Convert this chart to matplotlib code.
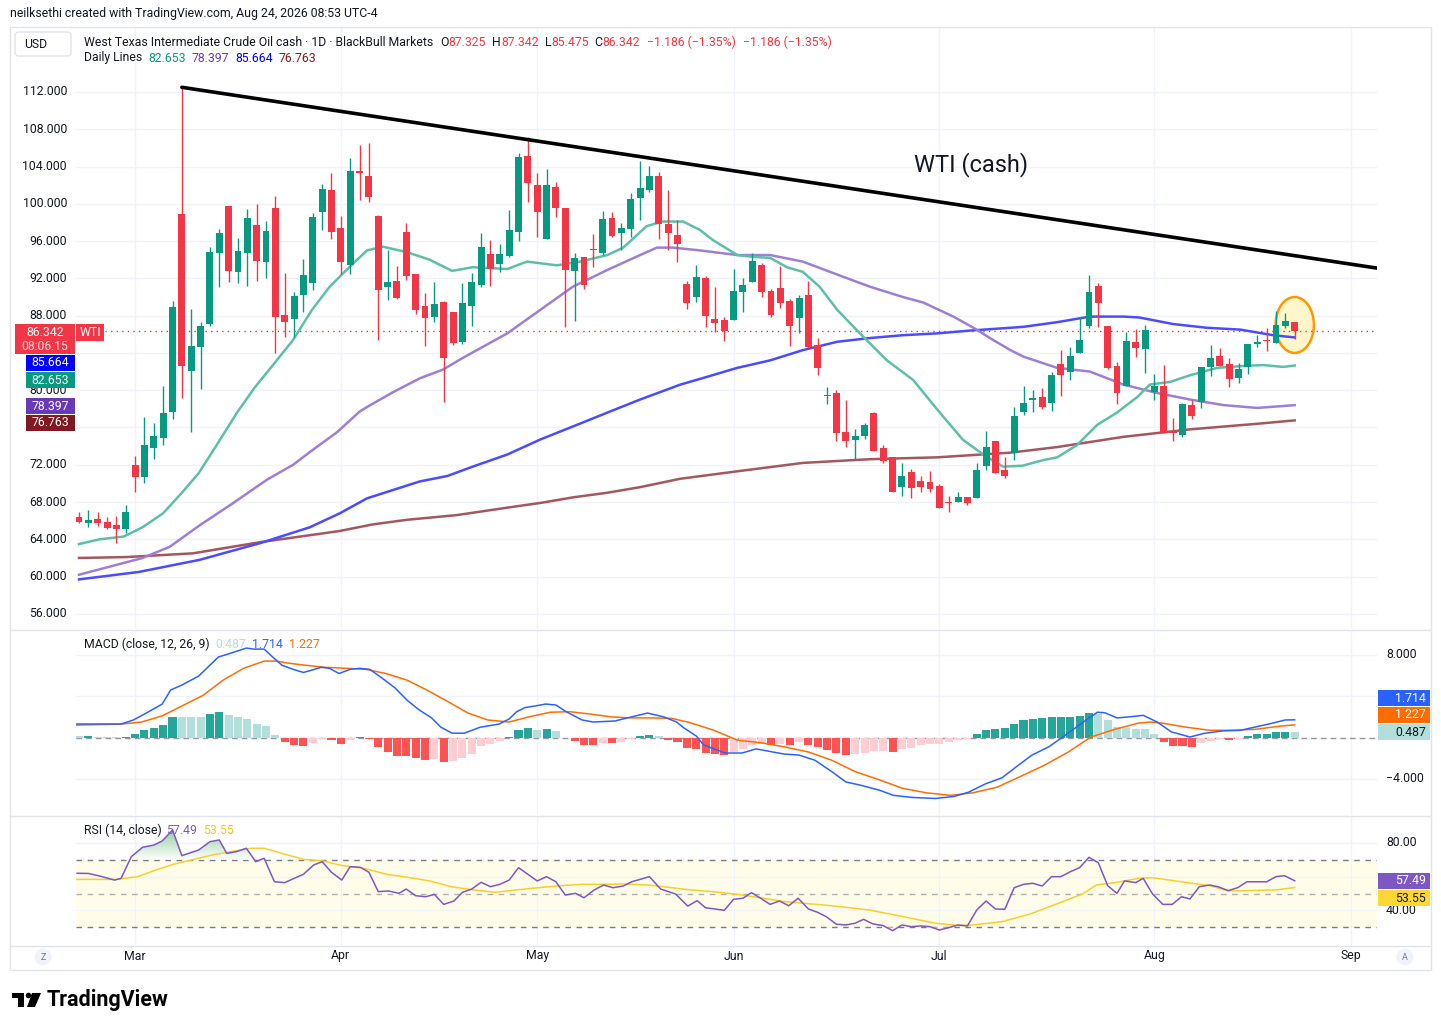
import matplotlib
matplotlib.use("Agg")
import matplotlib.pyplot as plt
import numpy as np
from matplotlib.patches import Ellipse, Rectangle, FancyBboxPatch, Circle, Polygon
from matplotlib.path import Path as MplPath
from matplotlib.colors import LinearSegmentedColormap
from matplotlib.transforms import blended_transform_factory


W, H = 1441, 1030
FONT = "Roboto"
DARK = "#131722"
RED = "#f23645"
GREEN = "#089981"
TXT = 8.8

# ---- daily candles (bar index 0 = first visible session) ----
opens = [66.4, 65.8, 66.2, 65.9, 65.5, 65.1, 72.0, 70.7, 73.8, 74.9,
         77.7, 98.9, 82.1, 84.6, 87.1, 94.7, 99.8, 92.7, 94.7, 97.7,
         93.8, 99.6, 88.1, 87.6, 90.2, 91.5, 99.1, 101.5, 97.4, 93.4,
         103.45, 103.0, 98.7, 91.1, 91.7, 97.0, 92.5, 89.0, 87.9, 89.5,
         88.4, 85.2, 89.0, 91.3, 94.6, 93.5, 94.4, 97.0, 105.1, 102.0,
         96.2, 101.8, 99.6, 92.8, 94.3, 95.15, 94.7, 98.5, 96.9, 97.3,
         100.6, 101.5, 103.0, 97.8, 96.7, 91.4, 90.0, 92.0, 87.6, 87.5,
         87.5, 90.5, 91.6, 93.4, 90.6, 91.0, 89.6, 87.8, 90.2, 84.9,
         79.35, 79.7, 75.5, 74.7, 75.1, 77.6, 73.8, 72.8, 69.6, 71.2,
         70.3, 70.2, 69.7, 67.95, 68.0, 68.5, 68.4, 71.9, 74.6, 71.4,
         73.3, 77.7, 79.0, 79.3, 78.6, 82.8, 82.0, 84.0, 86.9, 91.2,
         86.9, 82.6, 80.5, 85.2, 84.4, 79.8, 80.5, 75.55, 75.2, 78.4,
         78.7, 82.5, 83.7, 82.8, 81.3, 82.5, 85.0, 85.35, 85.1, 86.9,
         87.325]
highs = [66.9, 67.1, 66.9, 66.4, 66.5, 67.7, 72.9, 77.1, 76.5, 80.5,
         89.6, 112.5, 88.7, 87.3, 95.4, 97.3, 99.8, 96.3, 99.4, 100.0,
         98.2, 100.8, 92.6, 90.5, 94.1, 99.0, 102.1, 103.3, 98.7, 104.9,
         106.3, 106.5, 98.8, 95.0, 93.3, 97.9, 92.5, 90.4, 91.6, 89.6,
         88.4, 91.5, 92.6, 96.9, 96.1, 95.7, 99.3, 105.5, 107.2, 103.3,
         103.7, 102.3, 99.6, 94.7, 94.3, 96.8, 99.2, 99.1, 97.9, 101.2,
         104.6, 104.1, 103.4, 101.5, 98.3, 91.7, 93.4, 92.3, 91.1, 87.9,
         93.0, 92.0, 94.7, 93.6, 90.9, 93.3, 89.8, 90.2, 91.7, 85.6,
         80.3, 80.0, 79.0, 75.8, 76.5, 77.7, 74.1, 72.8, 72.2, 71.5,
         70.8, 71.3, 69.9, 68.7, 69.1, 68.5, 72.2, 75.6, 74.6, 72.8,
         78.2, 80.5, 80.0, 80.2, 82.0, 84.3, 84.6, 87.9, 92.4, 91.5,
         86.9, 83.0, 86.2, 86.6, 87.0, 81.7, 82.7, 77.0, 78.6, 79.0,
         82.5, 84.9, 84.5, 83.5, 82.9, 85.0, 85.9, 86.7, 88.5, 88.3,
         87.342]
lows = [65.8, 65.3, 65.4, 65.1, 63.6, 64.7, 69.1, 70.0, 72.6, 74.1,
        76.9, 79.2, 75.5, 80.1, 86.9, 91.1, 91.6, 91.5, 91.2, 91.7,
        92.0, 84.0, 85.7, 85.7, 88.4, 90.8, 97.2, 96.2, 92.5, 92.5,
        100.4, 100.2, 85.4, 89.7, 89.8, 91.8, 88.2, 84.7, 87.3, 78.7,
        84.9, 85.0, 86.9, 91.1, 91.2, 92.7, 94.3, 96.0, 100.2, 96.4,
        96.2, 98.6, 86.8, 87.4, 90.9, 93.2, 94.5, 96.4, 95.0, 96.4,
        98.3, 101.3, 96.2, 95.0, 93.8, 88.7, 89.5, 86.8, 86.2, 85.3,
        87.5, 88.4, 91.6, 90.0, 87.9, 88.8, 84.7, 86.1, 84.5, 81.6,
        78.5, 74.6, 73.9, 72.6, 74.8, 73.5, 72.2, 69.1, 68.7, 68.4,
        69.1, 69.1, 67.4, 66.9, 68.0, 67.7, 68.4, 71.4, 71.1, 70.6,
        72.5, 77.3, 77.7, 78.0, 77.8, 79.4, 81.1, 84.0, 86.7, 86.8,
        82.3, 78.5, 80.5, 83.6, 81.8, 79.0, 75.4, 74.6, 75.0, 76.9,
        78.1, 81.5, 82.6, 80.3, 80.8, 81.7, 84.6, 84.2, 85.1, 86.7,
        85.475]
closes = [65.9, 66.1, 65.7, 65.2, 65.1, 66.9, 70.7, 74.1, 75.1, 77.6,
          88.9, 82.6, 84.7, 86.9, 94.8, 96.9, 92.8, 94.9, 98.5, 93.9,
          97.1, 87.9, 87.3, 90.1, 92.4, 98.6, 101.6, 97.0, 93.8, 103.5,
          103.35, 100.7, 90.8, 91.6, 89.9, 92.3, 88.6, 87.8, 89.3, 83.5,
          85.1, 89.4, 91.6, 95.4, 93.0, 94.6, 97.2, 105.0, 102.2, 99.1,
          102.0, 99.6, 92.9, 94.2, 91.3, 95.05, 98.4, 96.5, 97.4, 100.5,
          101.7, 103.0, 97.8, 96.9, 95.7, 89.4, 92.2, 88.0, 87.2, 86.4,
          90.6, 91.3, 93.9, 90.5, 88.1, 89.4, 86.9, 89.9, 84.6, 82.4,
          79.45, 75.4, 74.6, 75.1, 76.3, 73.5, 72.4, 69.1, 70.8, 69.5,
          69.6, 69.4, 67.4, 67.85, 68.5, 67.9, 71.4, 73.9, 71.1, 70.8,
          77.2, 78.6, 79.2, 78.2, 81.6, 81.6, 83.7, 85.4, 90.5, 89.4,
          82.4, 79.7, 85.3, 84.5, 86.5, 80.5, 75.4, 75.45, 78.5, 77.2,
          82.5, 83.5, 82.6, 81.2, 82.3, 85.0, 85.2, 85.25, 87.0, 87.4,
          86.342]
change = -1.186
change_pct = -1.35

months = ["Mar", "Apr", "May", "Jun", "Jul", "Aug", "Sep"]
month_bars = [6, 28, 49, 70, 92, 115, 136]

# ---- daily moving averages ----
sma20_bar = [0, 2.2, 4.8, 6.8, 9, 11, 12.8, 14.9, 16.9, 18.8, 20.9, 22.9, 24.9,
             26.8, 28.9, 30.8, 32.5, 35.1, 37.5, 39.9, 42.1, 45.8, 47.9, 51.1,
             53.6, 56.5, 58.2, 60.7, 62.4, 64.6, 66.4, 67.8, 70.4, 72.1, 73.9,
             75.7, 77.4, 79.2, 81.1, 83.9, 86.4, 89.2, 91.8, 94.5, 96.7, 98.8,
             100.9, 103.1, 104.6, 106.7, 108.9, 111, 113.2, 114.5, 116.7,
             118.8, 121.7, 124.5, 126.6, 128.8, 130]
sma20_val = [63.5, 64.0, 64.3, 65.3, 66.8, 69.0, 71.1, 74.4, 77.6, 80.3, 82.9,
             85.4, 88.6, 91.1, 93.2, 95.0, 95.4, 94.8, 94.0, 92.8, 93.2, 93.0,
             93.8, 93.4, 93.8, 94.5, 95.3, 97.6, 98.1, 98.1, 97.2, 96.1, 94.5,
             94.3, 94.2, 93.2, 92.7, 91.1, 88.6, 85.7, 83.2, 81.1, 77.9, 74.7,
             73.1, 71.8, 71.9, 72.5, 72.8, 74.1, 76.3, 77.6, 79.3, 80.6, 80.9,
             81.6, 82.4, 82.6, 82.7, 82.5, 82.653]
sma50_bar = [0, 6.8, 9.7, 12.9, 16.5, 20.1, 22.9, 25, 27.6, 30, 30.8, 33.6,
             36.5, 38.9, 41.1, 45.8, 49.3, 52.8, 56.5, 60, 61.8, 63.5, 66.4,
             70.4, 73.9, 77.4, 81.1, 84.6, 88.1, 90.3, 93.5, 96, 97.4, 99.6,
             101, 104.6, 108.1, 111.7, 115.3, 118.8, 122.4, 126, 130]
sma50_val = [60.2, 62.0, 63.2, 65.5, 67.9, 70.4, 72.0, 73.6, 75.5, 77.7, 78.2,
             79.8, 81.3, 82.2, 83.5, 86.1, 88.6, 91.1, 92.9, 94.5, 95.3, 95.3,
             95.0, 94.5, 94.5, 93.8, 92.4, 91.1, 90.0, 89.4, 87.9, 86.5, 85.6,
             84.3, 83.6, 82.4, 82.0, 80.6, 79.7, 79.0, 78.4, 78.1, 78.397]
sma100_bar = [0, 6.4, 12.9, 19.4, 24.7, 27.9, 30.8, 33.6, 36.4, 39.4, 42.1, 45.8,
              49.3, 52.8, 56.5, 60, 64.3, 66.7, 70.4, 73.9, 77.4, 81.1, 84.6,
              88.1, 91.8, 95.3, 99.6, 101, 104.6, 108.1, 111.7, 113.4, 117,
              120.6, 124.2, 127.7, 130]
sma100_val = [59.7, 60.5, 61.8, 63.6, 65.3, 66.8, 68.4, 69.3, 70.2, 70.8, 71.8, 73.1,
              74.7, 76.1, 77.6, 79.0, 80.6, 81.3, 82.4, 83.2, 84.3, 85.2, 85.6,
              85.9, 86.1, 86.4, 86.7, 86.8, 87.3, 87.9, 87.9, 87.8, 87.1, 86.7,
              86.5, 85.9, 85.664]
sma200_bar = [0, 5.1, 12.2, 19.4, 26.5, 27.9, 31.4, 35.1, 40.4, 45.8, 49.3,
              52.8, 56.5, 60, 64.3, 70.4, 77.4, 84.6, 91.8, 99.6, 104.6,
              111.7, 118.8, 126, 130]
sma200_val = [62.0, 62.1, 62.5, 63.7, 64.7, 64.9, 65.6, 66.1, 66.6, 67.4, 67.9,
              68.5, 69.0, 69.6, 70.5, 71.3, 72.2, 72.6, 72.8, 73.3, 73.9,
              75.0, 75.8, 76.4, 76.763]

# ---- MACD (close, 12, 26, 9) ----
macd_bar = [-0.3, 4.5, 5.8, 7.2, 8.9, 9.8, 11, 12.8, 14.9, 16, 17.9, 18.7,
            19.8, 20.7, 21.7, 22.9, 24, 24.8, 25.9, 26.8, 27.8, 29, 30, 31.1,
            32.4, 33.8, 35.1, 36.4, 37.7, 38.7, 39.9, 41.2, 42.9, 44.9, 46,
            46.8, 47.7, 48.8, 49.9, 51, 52.1, 53.8, 55, 57.3, 59, 60.8, 62.6,
            63.9, 64.7, 66, 66.8, 69.1, 70.9, 72.4, 74.2, 75.4, 77, 78.7, 80.5,
            82, 83.5, 85.6, 87.1, 89.1, 91.6, 93.6, 95.1, 96.9, 98.7, 100.2,
            101.9, 103.7, 105.2, 106.5, 107.7, 108.9, 109.7, 111, 112.3, 113.8,
            115.3, 116.8, 118.8, 120.3, 122.4, 124.2, 125.7, 127.2, 129, 130]
macd_val = [1.31, 1.31, 1.69, 2.37, 3.24, 4.6, 5.08, 5.95, 7.79, 8.1, 8.66,
            8.56, 8.56, 7.8, 7.0, 6.6, 6.3, 6.5, 6.8, 6.7, 6.2, 6.6, 6.7, 6.6,
            5.76, 4.8, 3.6, 2.66, 1.9, 1.0, 0.42, 0.42, 1.0, 1.3, 1.8, 2.5, 2.9,
            3.06, 3.24, 3.15, 2.5, 1.7, 1.5, 1.6, 1.98, 2.37, 1.98, 1.5, 0.92,
            0.15, -0.73, -1.5, -1.5, -1.1, -1.4, -1.6, -1.7, -2.2, -3.3, -4.3,
            -4.6, -5.1, -5.6, -5.8, -5.9, -5.7, -5.3, -4.5, -3.9, -2.85, -1.7,
            -0.9, 0.05, 0.9, 1.7, 2.45, 2.4, 1.9, 2.0, 2.15, 1.5, 0.55, 0.05,
            0.4, 0.65, 0.7, 1.0, 1.3, 1.7, 1.714]
signal_bar = [-0.3, 4.5, 6.7, 8.9, 11, 13.3, 15.4, 17.6, 19.8, 21.1, 22.4,
              24.2, 26.3, 28.6, 30.7, 32.8, 35.1, 37.2, 39.5, 41.6, 43.7, 46,
              48.1, 50.4, 52.5, 54.7, 56.9, 59, 61.3, 63.4, 65.3, 67.9, 70.4,
              72.9, 75.4, 78, 80.5, 83, 85.6, 88, 90.6, 93.2, 95.6, 98.2, 100.6,
              103.2, 105.8, 108.2, 110.8, 113.3, 114.5, 115.8, 118.4, 120.9,
              123.4, 125.9, 128.4, 130]
signal_val = [1.2, 1.3, 1.5, 2.1, 3.05, 4.1, 5.55, 6.7, 7.4, 7.4, 7.2, 7.0,
              6.8, 6.7, 6.6, 6.2, 5.55, 4.6, 3.45, 2.37, 1.7, 1.5, 2.0, 2.45,
              2.5, 2.27, 2.0, 1.9, 1.9, 1.85, 1.45, 0.7, -0.25, -0.5, -0.9,
              -1.4, -2.2, -3.3, -4.1, -4.9, -5.35, -5.6, -5.35, -4.8, -3.8, -2.7,
              -1.4, 0.05, 0.8, 1.4, 1.5, 1.4, 1.0, 0.7, 0.7, 0.8, 1.1, 1.227]
hist_val = [0.13, 0.14, 0.06, 0.03, 0.02, 0.06, 0.32, 0.7, 0.9, 1.2,
            1.94, 1.94, 1.94, 1.94, 2.26, 2.45, 2.16, 1.94, 1.84, 1.35,
            1.1, 0.23, -0.42, -0.68, -0.84, -0.52, -0.13, -0.26, -0.65, -0.26,
            0.03, -0.16, -0.9, -1.4, -1.77, -1.77, -1.97, -2.19, -2.1, -2.39,
            -2.26, -1.94, -1.55, -0.84, -0.65, -0.35, 0.03, 0.7, 0.97, 0.77,
            0.79, 0.6, 0.0, -0.32, -0.74, -0.74, -0.52, -0.52, -0.42, -0.16,
            0.13, 0.29, 0.13, -0.23, -0.42, -1.0, -1.1, -1.48, -1.55, -1.71,
            -1.39, -1.13, -0.74, -0.58, -0.74, -0.58, -0.74, -0.48, -0.74, -0.9,
            -1.23, -1.48, -1.65, -1.62, -1.48, -1.29, -1.27, -1.39, -1.13, -1.06,
            -0.74, -0.65, -0.58, -0.48, -0.26, -0.13, 0.32, 0.71, 0.81, 0.9,
            1.29, 1.68, 1.84, 1.9, 1.94, 1.96, 2.0, 2.06, 2.39, 2.32,
            1.74, 1.03, 0.97, 0.81, 0.81, 0.32, -0.42, -0.81, -0.81, -0.9,
            -0.52, -0.32, -0.16, -0.2, -0.13, 0.13, 0.32, 0.36, 0.52, 0.55,
            0.487]

# ---- RSI (14, close) and its moving average ----
rsi_bar = [-0.2, 1, 2.2, 3.8, 4.5, 5.6, 6.8, 8, 8.9, 10, 11, 12.8, 14, 15,
           15.8, 16.8, 17.9, 18.9, 19.8, 20.9, 22, 23, 24, 25.1, 26, 27, 28.1,
           29, 30.1, 31, 32, 33.1, 34.2, 35, 36, 37.1, 38, 39, 40.1, 41, 42,
           43, 44, 45, 46, 47, 48, 49, 50, 51, 52, 53.1, 54, 55.1, 56.1, 57.1,
           58.2, 59.1, 61, 62.2, 63.8, 65.1, 66.1, 67, 68, 69, 70, 71, 71.9,
           72.9, 73.9, 74.9, 75.9, 76.9, 78, 79, 79.9, 81, 82, 83, 83.9, 84.9,
           86, 87, 88, 89, 90, 91, 92, 93, 94, 95, 96, 97, 98, 99, 100, 101,
           102, 103, 104, 105, 106, 107, 108, 109, 110, 111, 111.8, 113, 113.8,
           114.8, 115.9, 116.9, 117.9, 118.8, 119.8, 120.9, 121.8, 122.9,
           123.9, 124.9, 125.9, 127, 128, 128.9, 130]
rsi_val = [61.9, 61.8, 60.3, 57.9, 58.9, 71.7, 77.2, 78.5, 80.9, 87.4, 72.3,
           75.6, 80.5, 81.5, 73.6, 74.6, 76.6, 68.7, 70.7, 56.9, 56.4, 58.9,
           61.3, 66.8, 68.7, 62.5, 57.9, 65.8, 65.4, 62.5, 51.1, 51.5, 50.1,
           52.6, 48.7, 48.1, 49.5, 43.6, 45.6, 50.7, 52.6, 56.6, 54.0, 55.4,
           57.9, 65.2, 61.3, 57.4, 59.9, 56.9, 49.1, 50.1, 47.5, 52.1, 55.0,
           53.4, 54.4, 56.9, 59.9, 52.6, 49.7, 42.6, 45.8, 41.6, 40.9, 40.1,
           46.6, 47.2, 50.5, 47.2, 43.6, 45.6, 42.8, 47.2, 40.9, 38.9, 36.4,
           31.9, 31.5, 32.5, 34.8, 32.1, 31.1, 28.1, 31.5, 30.5, 30.9, 30.5,
           28.5, 29.9, 31.5, 30.9, 40.3, 45.6, 40.9, 40.7, 53.4, 55.4, 56.0,
           54.4, 59.9, 59.9, 62.8, 65.2, 71.3, 68.1, 54.6, 50.1, 57.4, 56.4,
           58.9, 49.7, 43.6, 43.6, 48.1, 46.8, 54.0, 55.0, 54.0, 51.7, 53.4,
           56.9, 56.9, 56.9, 59.9, 60.5, 57.49]
rsi_ma_bar = [-0.2, 4, 6.3, 8.2, 10.1, 12, 14.2, 16.6, 18.4, 19.8, 21.7, 24,
              25.9, 28.2, 30.5, 32.9, 35.2, 37.5, 39.8, 42.2, 44.5, 46.8, 49.1,
              51.5, 53.8, 56.1, 58.4, 60.8, 63.1, 65.4, 67.7, 70.4, 75.5, 80.5,
              84.5, 88.1, 91.6, 94.1, 95.6, 98.7, 101.7, 104.7, 107.3, 108.8,
              110.8, 113.3, 114.8, 117.9, 120.9, 122.9, 124.9, 128, 130]
rsi_ma_val = [58.3, 58.3, 59.9, 63.8, 67.2, 69.7, 72.6, 75.0, 76.6, 76.6, 73.6,
              70.1, 69.3, 66.4, 64.8, 61.3, 59.5, 57.4, 54.0, 52.1, 50.7, 52.1,
              53.4, 54.6, 55.4, 55.4, 55.6, 55.0, 53.6, 52.1, 51.1, 49.5, 45.2,
              42.8, 40.3, 36.4, 32.5, 31.1, 31.5, 33.4, 37.9, 44.2, 49.7, 55.0,
              56.4, 58.9, 59.3, 56.9, 54.6, 51.5, 51.7, 52.1, 53.55]

# hand-drawn trendline
trend_bar = [11.0, 138.8]
trend_price = [112.5, 93.1]

# price levels whose scale label sits hidden under the value tags
hidden_levels = [84, 76]


def fx(px):
    return px / W


def fy(py):
    return 1 - py / H


def inch(px, py):
    return px / 100.0, (H - py) / 100.0


def put_segments(fig, x_px, y_px, segments, size):
    """Write coloured text pieces one after another on a line."""
    renderer = fig.canvas.get_renderer()
    x = x_px
    for text, color, gap in segments:
        t = fig.text(fx(x), fy(y_px), text, color=color, fontsize=size,
                     family=FONT, va="center", ha="left", zorder=6)
        x += t.get_window_extent(renderer).width + gap
    return x


def tag(fig, x0, x1, y0, y1, text, face, color="white", size=8.5, ha="center"):
    fig.patches.append(Rectangle(inch(x0, y1), (x1 - x0) / 100.0, (y1 - y0) / 100.0,
                                 transform=fig.dpi_scale_trans, facecolor=face,
                                 edgecolor="none", zorder=4))
    tx = (x0 + x1) / 2 if ha == "center" else x1 - 4
    fig.text(fx(tx), fy((y0 + y1) / 2), text, color=color, fontsize=size,
             family=FONT, ha=ha, va="center", zorder=5)


def style_pane(ax, ylim, yticks):
    ax.set_xlim(-0.32, 138.8)
    ax.set_ylim(*ylim)
    ax.set_xticks(month_bars)
    ax.set_yticks(yticks)
    ax.grid(True, color="#f0f3fa", lw=1)
    ax.set_axisbelow(True)
    ax.tick_params(length=0, labelbottom=False, labelleft=False)
    for s in ax.spines.values():
        s.set_visible(False)


def main():
    fig = plt.figure(figsize=(W / 100, H / 100), dpi=100)
    fig.patch.set_facecolor("white")

    ax = fig.add_axes([fx(76), fy(629), fx(1377) - fx(76), (629 - 27) / H])
    ax_macd = fig.add_axes([fx(76), fy(815), fx(1377) - fx(76), (815 - 630) / H])
    ax_rsi = fig.add_axes([fx(76), fy(945), fx(1377) - fx(76), (945 - 816) / H])

    style_pane(ax, (54.38, 118.97), np.arange(56, 113, 4))
    style_pane(ax_macd, (-7.50, 10.41), [-4, 0, 4, 8])
    style_pane(ax_rsi, (19.7, 95.6), [40, 60, 80])

    # ---- main pane ----
    o = np.array(opens)
    h = np.array(highs)
    lo = np.array(lows)
    c = np.array(closes)
    bars = np.arange(len(o))
    colors = np.where(c >= o, GREEN, RED)
    ax.vlines(bars, lo, h, colors=colors, lw=1, zorder=3)
    body = np.maximum(np.abs(c - o), 0.12)
    ax.bar(bars, body, bottom=np.minimum(o, c), width=0.74, color=colors,
           lw=0, zorder=4)

    ax.plot(sma200_bar, sma200_val, color="#a2585e", lw=1.8, zorder=2)
    ax.plot(sma100_bar, sma100_val, color="#4b4bff", lw=1.8, zorder=2)
    ax.plot(sma50_bar, sma50_val, color="#9b80d6", lw=1.8, zorder=2)
    ax.plot(sma20_bar, sma20_val, color="#5dbfa7", lw=1.8, zorder=2)

    ax.plot(trend_bar, trend_price, color="black", lw=2.6, zorder=5,
            solid_capstyle="round")
    ax.text(89.3, 104.2, "WTI (cash)", fontsize=17, family=FONT,
            color=DARK, va="center", ha="left", zorder=6)
    ax.add_patch(Ellipse((130.0, 87.0), 4.1, 6.0, facecolor="#fff6cc",
                         edgecolor="#ff9800", lw=1.8, zorder=1.5))
    ax.axhline(c[-1], xmin=0.022, color=RED, lw=1, ls=(0, (1, 3)), zorder=1.6)

    # ---- MACD pane ----
    hist = np.array(hist_val)
    prev = np.concatenate([[hist[0]], hist[:-1]])
    hcol = np.where(hist >= 0,
                    np.where(prev < hist, "#26a69a", "#b2dfdb"),
                    np.where(prev < hist, "#ffcdd2", "#ff5252"))
    ax_macd.bar(bars, hist, width=0.86, color=hcol, lw=0, zorder=2)
    ax_macd.axhline(0, color="#9598a1", lw=1, ls=(0, (4, 3)), zorder=1)
    ax_macd.plot(signal_bar, signal_val, color="#ff6d00", lw=1.1, zorder=3)
    ax_macd.plot(macd_bar, macd_val, color="#2962ff", lw=1.1, zorder=4)

    # ---- RSI pane ----
    ax_rsi.axhspan(30, 70, color="#fffde9", zorder=0.5)
    for lvl, a in ((70, 1.0), (50, 0.6), (30, 1.0)):
        ax_rsi.axhline(lvl, color="#787b86", lw=1, ls=(0, (4, 4)), alpha=a, zorder=1)
    rb = np.array(rsi_bar)
    rv = np.array(rsi_val)
    over = ax_rsi.fill_between(rb, rv, 70, where=rv > 70, interpolate=True,
                               color="none", lw=0)
    under = ax_rsi.fill_between(rb, rv, 30, where=rv < 30, interpolate=True,
                                color="none", lw=0)
    green_cm = LinearSegmentedColormap.from_list("g", ["#ffffff", "#7cc48a"])
    red_cm = LinearSegmentedColormap.from_list("r", ["#ff9a9a", "#ffffff"])
    for coll, cmap, lo_y, hi_y in ((over, green_cm, 70, 90), (under, red_cm, 25, 30)):
        paths = coll.get_paths()
        if not paths:
            continue
        img = ax_rsi.imshow(np.linspace(0, 1, 64).reshape(-1, 1), cmap=cmap,
                            extent=[-1, 140, lo_y, hi_y], origin="lower",
                            aspect="auto", zorder=1.5, alpha=0.9)
        img.set_clip_path(MplPath.make_compound_path(*paths), ax_rsi.transData)
    ax_rsi.set_xlim(-0.32, 138.8)
    ax_rsi.set_ylim(19.7, 95.6)
    ax_rsi.plot(rsi_ma_bar, rsi_ma_val, color="#f7cf2c", lw=1.1, zorder=2)
    ax_rsi.plot(rb, rv, color="#7e57c2", lw=1.1, zorder=3)

    # ---- frame and separators ----
    fig.patches.append(Rectangle(inch(10, 970), 14.21, 9.43, transform=fig.dpi_scale_trans,
                                 facecolor="none", edgecolor="#e0e3eb", lw=1, zorder=1))
    for yy in (629.5, 815.5, 945.5):
        fig.lines.append(plt.Line2D([fx(10), fx(1431)], [fy(yy), fy(yy)],
                                    transform=fig.transFigure, color="#e0e3eb",
                                    lw=1, zorder=1))

    # ---- price scale (left) ----
    left_tr = blended_transform_factory(fig.transFigure, ax.transData)
    for p in np.arange(56, 113, 4):
        if p in hidden_levels:
            continue
        fig.text(fx(67), p, f"{p:.3f}", transform=left_tr, fontsize=TXT,
                 family=FONT, color=DARK, ha="right", va="center", zorder=3)

    tag(fig, 15, 75, 324, 354, "", RED)
    fig.text(fx(45), fy(332), f"{c[-1]:.3f}", fontsize=TXT, family=FONT,
             color="white", ha="center", va="center", zorder=5)
    fig.text(fx(45), fy(346), "08:06:15", fontsize=TXT, family=FONT,
             color="#ffd6da", ha="center", va="center", zorder=5)
    tag(fig, 76, 104, 324, 341, "WTI", RED, size=TXT)
    tag(fig, 26, 75, 355, 371, f"{sma100_val[-1]:.3f}", "#0000ff", size=TXT)
    tag(fig, 26, 75, 372, 388, f"{sma20_val[-1]:.3f}", GREEN, size=TXT)
    tag(fig, 26, 75, 398, 414, f"{sma50_val[-1]:.3f}", "#673ab7", size=TXT)
    tag(fig, 26, 75, 415, 431, f"{sma200_val[-1]:.3f}", "#801922", size=TXT)

    # ---- right scales for MACD and RSI ----
    macd_tr = blended_transform_factory(fig.transFigure, ax_macd.transData)
    for v in (8, -4):
        fig.text(fx(1386), v, f"{v:.3f}".replace("-", "\u2212"), transform=macd_tr,
                 fontsize=TXT, family=FONT, color=DARK, ha="left", va="center", zorder=3)
    tag(fig, 1378, 1430, 690, 706, f"{macd_val[-1]:.3f}", "#2962ff", size=TXT, ha="right")
    tag(fig, 1378, 1430, 707, 723, f"{signal_val[-1]:.3f}", "#ff6d00", size=TXT, ha="right")
    tag(fig, 1378, 1430, 724, 740, f"{hist_val[-1]:.3f}", "#b2dfdb", color=DARK,
        size=TXT, ha="right")

    rsi_tr = blended_transform_factory(fig.transFigure, ax_rsi.transData)
    for v in (80, 40):
        fig.text(fx(1386), v, f"{v:.2f}", transform=rsi_tr, fontsize=TXT,
                 family=FONT, color=DARK, ha="left", va="center", zorder=3)
    tag(fig, 1378, 1430, 873, 889, f"{rsi_val[-1]:.2f}", "#7e57c2", size=TXT, ha="right")
    tag(fig, 1378, 1430, 890, 906, f"{rsi_ma_val[-1]:.2f}", "#fdd835", color=DARK,
        size=TXT, ha="right")

    # ---- time axis ----
    time_tr = blended_transform_factory(ax_rsi.transData, fig.transFigure)
    for name, b in zip(months, month_bars):
        fig.text(b, fy(956), name, transform=time_tr, fontsize=TXT, family=FONT,
                 color=DARK, ha="center", va="center", zorder=3)
    for cx, letter in ((43, "Z"), (1405, "A")):
        fig.patches.append(Circle(inch(cx, 957), 0.085, transform=fig.dpi_scale_trans,
                                  facecolor="#f0f3fa", edgecolor="none", zorder=2))
        fig.text(fx(cx), fy(957), letter, fontsize=6.5, family=FONT,
                 color="#787b86", ha="center", va="center", zorder=3)

    # ---- header texts ----
    fig.text(fx(10), fy(14), "neilksethi created with TradingView.com, Aug 24, 2026 08:53 UTC-4",
             fontsize=TXT, family=FONT, color=DARK, ha="left", va="center")
    usd = FancyBboxPatch(inch(15, 56), 0.56, 0.24, boxstyle="round,pad=0,rounding_size=0.04",
                         transform=fig.dpi_scale_trans, facecolor="white",
                         edgecolor="#e0e3eb", lw=1, zorder=4)
    fig.patches.append(usd)
    fig.text(fx(24), fy(44), "USD", fontsize=TXT, family=FONT, color=DARK,
             ha="left", va="center", zorder=5)

    chg = f"{change:.3f} ({change_pct:.2f}%)".replace("-", "\u2212")
    put_segments(fig, 84, 42, [
        ("West Texas Intermediate Crude Oil cash \u00b7 1D \u00b7 BlackBull Markets", DARK, 7),
        ("O", DARK, 0), (f"{o[-1]:.3f}", RED, 6),
        ("H", DARK, 0), (f"{h[-1]:.3f}", RED, 6),
        ("L", DARK, 0), (f"{lo[-1]:.3f}", RED, 6),
        ("C", DARK, 0), (f"{c[-1]:.3f}", RED, 7),
        (chg, RED, 7), (chg, RED, 0)], TXT)
    put_segments(fig, 84, 58, [
        ("Daily Lines", DARK, 6),
        (f"{sma20_val[-1]:.3f}", GREEN, 6),
        (f"{sma50_val[-1]:.3f}", "#673ab7", 6),
        (f"{sma100_val[-1]:.3f}", "#0000ff", 6),
        (f"{sma200_val[-1]:.3f}", "#801922", 0)], TXT)
    put_segments(fig, 84, 644, [
        ("MACD (close, 12, 26, 9)", DARK, 6),
        (f"{hist_val[-1]:.3f}", "#b2dfdb", 6),
        (f"{macd_val[-1]:.3f}", "#2962ff", 6),
        (f"{signal_val[-1]:.3f}", "#ff6d00", 0)], TXT)
    put_segments(fig, 84, 830, [
        ("RSI (14, close)", DARK, 4),
        (f"{rsi_val[-1]:.2f}", "#7e57c2", 6),
        (f"{rsi_ma_val[-1]:.2f}", "#f5c518", 0)], TXT)

    # ---- TradingView logo ----
    logo = [Rectangle(inch(12, 998), 0.12, 0.05),
            Rectangle(inch(18, 1007), 0.06, 0.14),
            Circle(inch(28.5, 995.5), 0.028),
            Polygon([inch(32, 993), inch(41, 993), inch(35, 1007), inch(27, 1007)])]
    for patch in logo:
        patch.set_transform(fig.dpi_scale_trans)
        patch.set_facecolor("black")
        patch.set_edgecolor("none")
        fig.patches.append(patch)
    fig.text(fx(47), fy(1000), "TradingView", fontsize=15.5, family=FONT,
             weight="bold", color="black", ha="left", va="center")

    fig.savefig("out.png", dpi=100)
    plt.close(fig)


if __name__ == "__main__":
    main()
